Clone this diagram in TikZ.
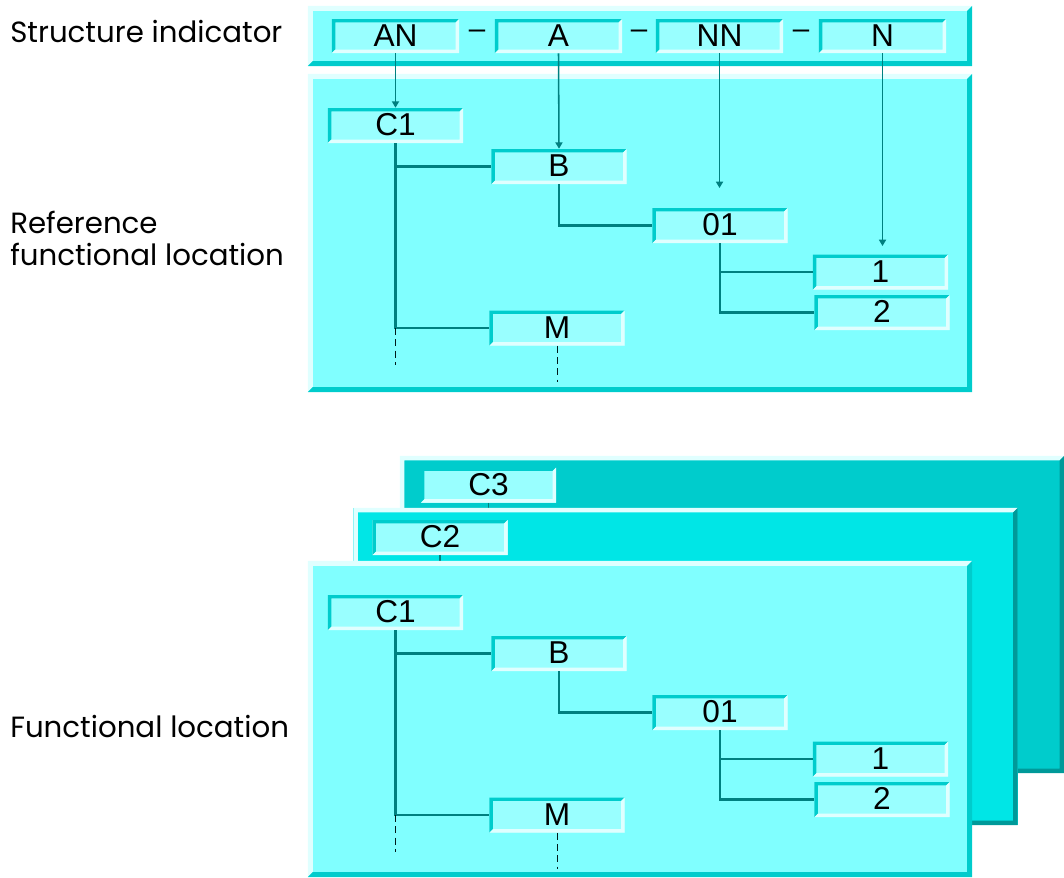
\documentclass[tikz,border=0pt]{standalone}
\usepackage{fontspec}
\setmainfont{Liberation Sans}
\newfontfamily\labelfont{Poppins}
\usetikzlibrary{arrows.meta,calc}

\definecolor{panelfill}{HTML}{80FFFF}
\definecolor{boxfill}{HTML}{99FFFF}
\definecolor{edgelight}{HTML}{E0FFFF}
\definecolor{edgedark}{HTML}{00CCCC}
\definecolor{linkcol}{HTML}{008080}
\definecolor{midfill}{HTML}{00E6E6}
\definecolor{backfill}{HTML}{00CCCC}
\definecolor{deepedge}{HTML}{009999}

\tikzset{
  % raised / sunken rectangle: #1 edge width, #2 top-left colour, #3 bottom-right colour
  bevel/.style n args={3}{path picture={
    \path (path picture bounding box.north west) coordinate (bvnw)
          (path picture bounding box.north east) coordinate (bvne)
          (path picture bounding box.south west) coordinate (bvsw)
          (path picture bounding box.south east) coordinate (bvse);
    \fill[#2] (bvsw) -- (bvnw) -- (bvne) -- ([shift={(-#1,-#1)}]bvne)
      -- ([shift={(#1,-#1)}]bvnw) -- ([shift={(#1,#1)}]bvsw) -- cycle;
    \fill[#3] (bvsw) -- (bvse) -- (bvne) -- ([shift={(-#1,-#1)}]bvne)
      -- ([shift={(-#1,#1)}]bvse) -- ([shift={(#1,#1)}]bvsw) -- cycle;
  }},
  panel/.style={rectangle, inner sep=0pt, fill=panelfill,
    bevel={3.5pt}{edgelight}{edgedark}},
  backpanel/.style 2 args={rectangle, inner sep=0pt, fill=#1,
    minimum width=16.6cm, minimum height=7.925cm,
    bevel={3.2pt}{edgelight}{#2}},
  field/.style={rectangle, inner sep=0pt, fill=boxfill,
    minimum width=3.375cm, minimum height=0.875cm, text depth=1pt,
    font=\fontsize{22.5}{26}\selectfont, bevel={2.4pt}{edgedark}{edgelight}},
  keyfield/.style={field, minimum width=3.175cm, minimum height=0.85cm},
  caption/.style={anchor=base west, inner sep=0pt,
    font=\labelfont\fontsize{20.8}{25}\selectfont},
  tree/.style={draw=linkcol, line width=1.7pt},
  trail/.style={draw=black!80!linkcol, line width=0.7pt, dash pattern=on 5pt off 3pt},
  pointer/.style={draw=linkcol, line width=1.1pt,
    -{Triangle[width=5pt,length=4.5pt]}},
}

\begin{document}
\begin{tikzpicture}[x=0.025cm, y=-0.025cm]
\useasboundingbox (0,0) rectangle (1064,877);

% ---------- captions ----------
\node[caption] (capS) at (10,42) {Structure indicator};
\node[caption] (capR1) at (10,233) {Reference};
\node[caption] (capR2) at (10,265) {functional location};
\node[caption] (capF) at (10,737) {Functional location};

% ---------- structure indicator ----------
\node[panel, minimum width=16.6cm, minimum height=1.5cm] (S) at (640,36) {};
\node[keyfield] (AN) at (395.5,36) {AN};
\node[keyfield] (A)  at (558.5,36) {A};
\node[keyfield] (NN) at (719.5,36) {NN};
\node[keyfield] (N)  at (882.5,36) {N};
\node[font=\fontsize{21}{24}\selectfont, inner sep=0pt] (sep1) at ($(AN.east)!0.5!(A.west)+(0,-2)$) {--};
\node[font=\fontsize{21}{24}\selectfont, inner sep=0pt] (sep2) at ($(A.east)!0.5!(NN.west)+(0,-2)$) {--};
\node[font=\fontsize{21}{24}\selectfont, inner sep=0pt] (sep3) at ($(NN.east)!0.5!(N.west)+(0,-2)$) {--};

% ---------- reference functional location ----------
\node[panel, minimum width=16.6cm, minimum height=7.95cm] (R) at (640,233) {};
\node[field] (rC1) at (395.5,125.5) {C1};
\node[field] (rB)  at (559,166.5) {B};
\node[field] (r01) at (720,225.5) {01};
\node[field] (r1)  at (880.5,272) {1};
\node[field] (r2)  at (882,312.5) {2};
\node[field] (rM)  at (557,328) {M};

\draw[tree] (rC1.south) |- (rM.west);
\draw[tree] (rC1.south |- rB.west) -- (rB.west);
\draw[tree] (rB.south) |- (r01.west);
\draw[tree] (r01.south) |- (r2.west);
\draw[tree] (r01.south |- r1.west) -- (r1.west);

\coordinate (rC1end) at (395.5,365);
\coordinate (rMend) at (557,382);
\draw[trail] (rC1.south |- rM.west) -- (rC1end);
\draw[trail] (rM.south) -- (rMend);

\coordinate (nnend) at (719.5,188);
\coordinate (nend) at (882.5,246);
\draw[pointer] (AN.south) -- (rC1.north);
\draw[pointer] (A.south) -- (rB.north);
\draw[pointer] (NN.south) -- (nnend);
\draw[pointer] (N.south) -- (nend);

% ---------- functional locations (stacked) ----------
\node[backpanel={backfill}{deepedge}] (P3) at (732,614.5) {};
\node[field] (fC3) at (488.5,485) {C3};
\coordinate (c3end) at (488.5,515);
\draw[tree, line width=1pt] (fC3.south) -- (c3end);

\node[backpanel={midfill}{deepedge}] (P2) at (685.5,666.5) {};
\node[field] (fC2) at (440,537.5) {C2};
\coordinate (c2end) at (440,568);
\draw[tree, line width=1pt] (fC2.south) -- (c2end);

\node[panel, minimum width=16.6cm, minimum height=7.9cm] (P1) at (640,719) {};
\node[field] (fC1) at (395.5,612.5) {C1};
\node[field] (fB)  at (559,653.5) {B};
\node[field] (f01) at (720,712.5) {01};
\node[field] (f1)  at (880.5,759) {1};
\node[field] (f2)  at (882,799.5) {2};
\node[field] (fM)  at (557,815) {M};

\draw[tree] (fC1.south) |- (fM.west);
\draw[tree] (fC1.south |- fB.west) -- (fB.west);
\draw[tree] (fB.south) |- (f01.west);
\draw[tree] (f01.south) |- (f2.west);
\draw[tree] (f01.south |- f1.west) -- (f1.west);

\coordinate (fC1end) at (395.5,852);
\coordinate (fMend) at (557,869);
\draw[trail] (fC1.south |- fM.west) -- (fC1end);
\draw[trail] (fM.south) -- (fMend);
\end{tikzpicture}
\end{document}
